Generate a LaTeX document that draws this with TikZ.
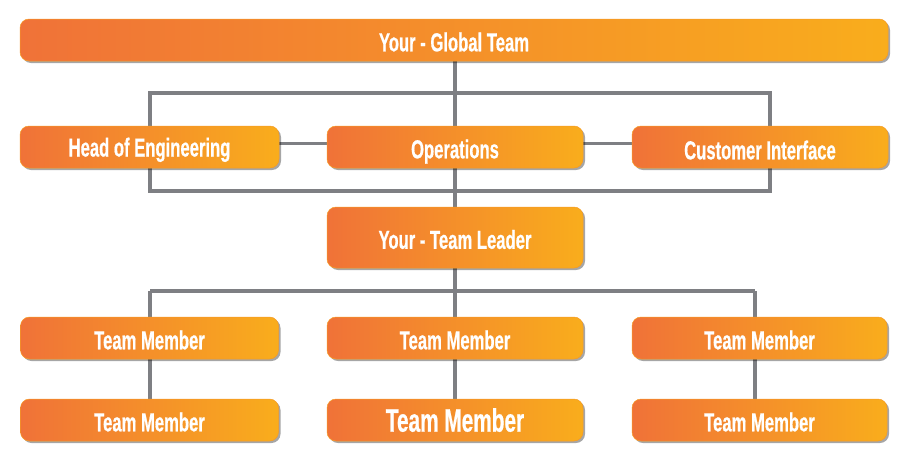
\documentclass[tikz,border=0pt]{standalone}
\usepackage{fontspec}
\newfontfamily\boxfont{Liberation Sans}[FakeStretch=0.64, BoldFeatures={FakeBold=0.6}]
\usetikzlibrary{shadows}
\definecolor{orL}{HTML}{F07238}
\definecolor{orR}{HTML}{F9AD1C}
\definecolor{lineg}{HTML}{7E7F83}
\tikzset{
  box/.style={rounded corners=9pt, left color=orL, right color=orR,
    draw=orR!70!orL, line width=0.5pt,
    drop shadow={shadow xshift=2pt, shadow yshift=-2pt, fill=black, opacity=0.35},
    inner sep=0pt, text=white, font=\boxfont\bfseries\fontsize{26}{26}\selectfont,
    text height=22.6pt, text depth=0pt, align=center},
  bigtext/.style={font=\boxfont\bfseries\fontsize{32.5}{32.5}\selectfont, text height=23.3pt},
  conn/.style={draw=lineg, line width=3.5pt},
  thin/.style={draw=lineg, line width=3pt}
}
\begin{document}
\begin{tikzpicture}[x=1pt,y=-1pt]
\useasboundingbox (0,0) rectangle (900,461);
\coordinate (r1) at (150,93);
\coordinate (r2) at (770,93);
\coordinate (r3) at (770,191);
\coordinate (r4) at (150,191);
\coordinate (b1) at (150,291);
\coordinate (b3) at (755,291);
\coordinate (ctop) at (455,40);
\coordinate (chead) at (149.5,147);
\coordinate (cops) at (455,147);
\coordinate (ccust) at (760,147);
\coordinate (clead) at (455,237.5);
\coordinate (cm1) at (149.5,338);
\coordinate (cm2) at (455,338);
\coordinate (cm3) at (755,338);
\coordinate (cn1) at (149.5,420);
\coordinate (cn2) at (455,420);
\coordinate (cn3) at (755,420);
% connectors
\draw[conn] (ctop) -- (cm2);
\draw[conn] (r1) -- (r2) -- (r3) -- (r4) -- cycle;
\draw[thin] (chead |- 0,143) -- (ccust |- 0,143);
\draw[conn] (b1) -- (b3);
\draw[conn] (b1) -- (cn1 -| b1);
\draw[conn] (cm2) -- (cn2);
\draw[conn] (b3) -- (cn3);
% boxes
\node[box, minimum width=868pt, minimum height=42pt] (top) at (454,40) {Your - Global Team};
\node[box, text height=19pt, minimum width=259pt, minimum height=42pt] (head) at (chead) {Head of Engineering};
\node[box, minimum width=256pt, minimum height=42pt] (ops) at (cops) {Operations};
\node[box, text height=24.6pt, minimum width=256pt, minimum height=42pt] (cust) at (ccust) {Customer Interface};
\node[box, minimum width=256pt, minimum height=61pt] (lead) at (clead) {Your - Team Leader};
\node[box, minimum width=258pt, minimum height=42pt] (m1) at (cm1) {Team Member};
\node[box, minimum width=256pt, minimum height=42pt] (m2) at (cm2) {Team Member};
\node[box, minimum width=255pt, minimum height=42pt] (m3) at (759.5,338) {Team Member};
\node[box, minimum width=258pt, minimum height=42pt] (n1) at (cn1) {Team Member};
\node[box, bigtext, minimum width=256pt, minimum height=42pt] (n2) at (cn2) {Team Member};
\node[box, minimum width=255pt, minimum height=42pt] (n3) at (759.5,420) {Team Member};
\end{tikzpicture}
\end{document}
